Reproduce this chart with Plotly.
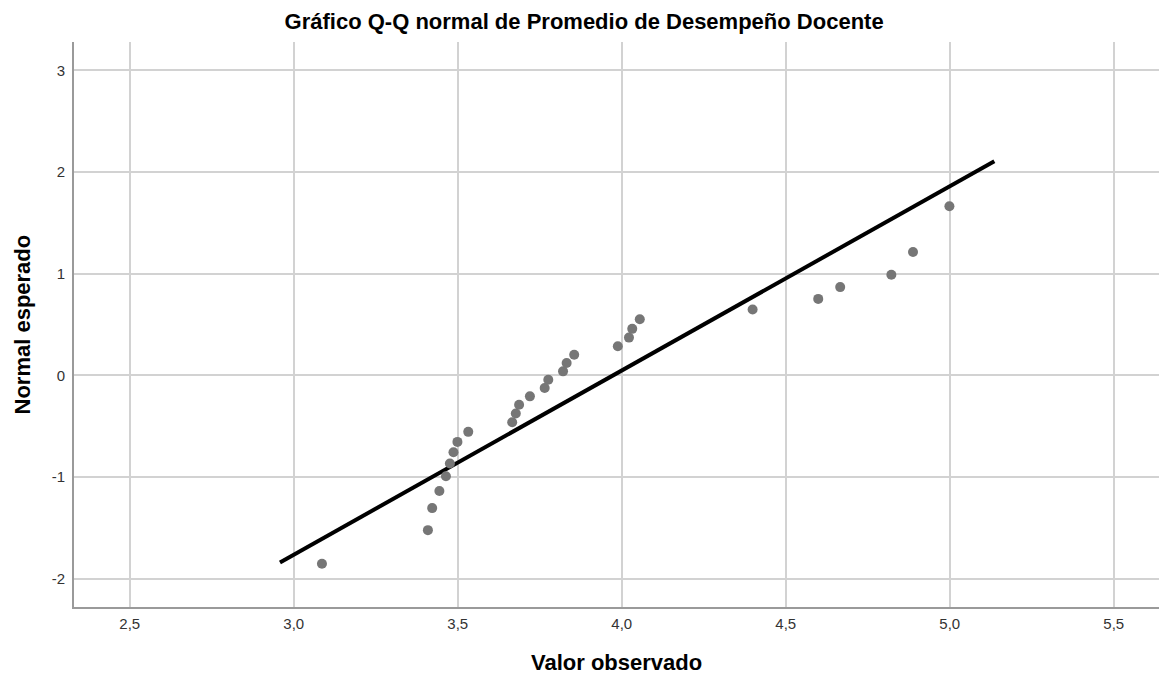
import plotly.graph_objects as go

# Observed values (Promedio de Desempeño Docente) and expected normal scores
valor_observado = [3.086, 3.409, 3.422, 3.444, 3.464, 3.476, 3.487, 3.499, 3.532,
                   3.666, 3.677, 3.687, 3.720, 3.765, 3.776, 3.821, 3.832, 3.855,
                   3.988, 4.022, 4.032, 4.055, 4.399, 4.599, 4.666, 4.822, 4.888, 4.999]
normal_esperado = [-1.853, -1.522, -1.305, -1.137, -0.992, -0.867, -0.755, -0.654, -0.555,
                   -0.460, -0.374, -0.289, -0.206, -0.124, -0.042, 0.040, 0.122, 0.204,
                   0.287, 0.372, 0.458, 0.553, 0.648, 0.753, 0.869, 0.990, 1.214, 1.664]

# Reference (expected normal) line endpoints
linea_x = [2.958, 5.136]
linea_y = [-1.840, 2.107]

x_ticks = [2.5, 3.0, 3.5, 4.0, 4.5, 5.0, 5.5]
x_tick_labels = ["2,5", "3,0", "3,5", "4,0", "4,5", "5,0", "5,5"]
y_ticks = [-2, -1, 0, 1, 2, 3]
y_tick_labels = ["-2", "-1", "0", "1", "2", "3"]

FONT = "Liberation Sans, Arial, sans-serif"

fig = go.Figure()
fig.add_trace(go.Scatter(x=linea_x, y=linea_y, mode="lines",
                         line=dict(color="black", width=4),
                         showlegend=False, hoverinfo="skip"))
fig.add_trace(go.Scatter(x=valor_observado, y=normal_esperado, mode="markers",
                         marker=dict(color="#767676", size=10),
                         showlegend=False))

fig.update_layout(
    width=1159, height=678,
    margin=dict(l=74, r=0, t=42, b=71),
    paper_bgcolor="white", plot_bgcolor="white",
    font=dict(family=FONT, color="#333333", size=15),
    title=dict(text="<b>Gráfico Q-Q normal de Promedio de Desempeño Docente</b>",
               x=0.504, xanchor="center", y=0.969, yanchor="middle",
               font=dict(family=FONT, size=22, color="black")),
    xaxis=dict(range=[2.330, 5.638], tickvals=x_ticks, ticktext=x_tick_labels,
               showgrid=True, gridcolor="#d2d2d2", gridwidth=1.5,
               showline=True, linecolor="#9a9a9a", linewidth=2,
               zeroline=False, ticks="", ticklabelstandoff=2,
               tickfont=dict(size=15, color="#333333")),
    yaxis=dict(range=[-2.278, 3.280], tickvals=y_ticks, ticktext=y_tick_labels,
               showgrid=True, gridcolor="#d2d2d2", gridwidth=1.5,
               showline=True, linecolor="#9a9a9a", linewidth=2,
               zeroline=False, ticks="", ticklabelstandoff=4,
               tickfont=dict(size=15, color="#333333")),
    annotations=[
        dict(text="<b>Valor observado</b>", xref="paper", yref="paper",
             x=0.5, y=0, xanchor="center", yanchor="middle", yshift=-55,
             showarrow=False, font=dict(family=FONT, size=22, color="black")),
        dict(text="<b>Normal esperado</b>", xref="paper", yref="paper",
             x=0, y=0.5, xanchor="center", yanchor="middle", xshift=-52,
             textangle=-90, showarrow=False,
             font=dict(family=FONT, size=22, color="black")),
    ],
)

fig.write_html("out.html", config={"displayModeBar": False},
               post_script="document.body.style.margin='0';document.body.style.padding='0';")
